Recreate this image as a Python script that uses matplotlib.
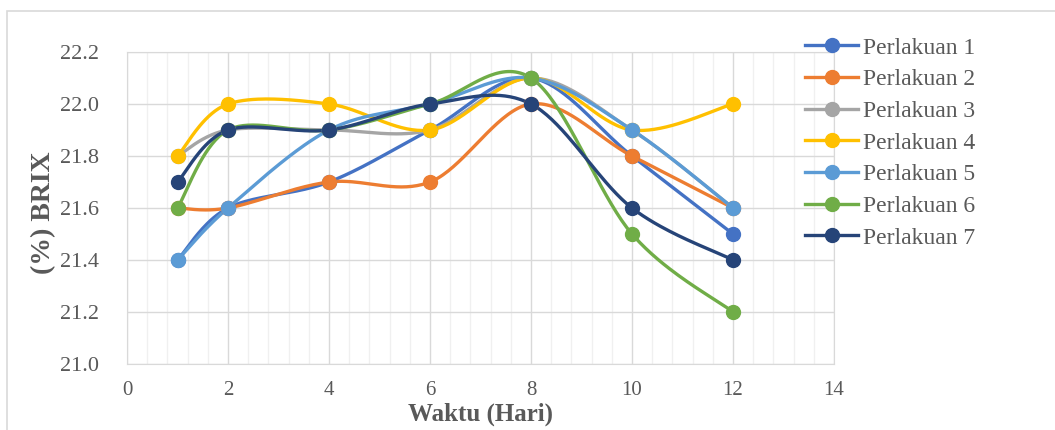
import numpy as np
import matplotlib
matplotlib.use('Agg')
import matplotlib.pyplot as plt
from matplotlib.patches import Rectangle
from matplotlib.lines import Line2D

plt.rcParams['font.family'] = ['Liberation Serif', 'DejaVu Serif']

hari = [1, 2, 4, 6, 8, 10, 12]
labels = ['Perlakuan 1', 'Perlakuan 2', 'Perlakuan 3', 'Perlakuan 4',
          'Perlakuan 5', 'Perlakuan 6', 'Perlakuan 7']
p1 = [21.4, 21.6, 21.7, 21.9, 22.1, 21.8, 21.5]
p2 = [21.6, 21.6, 21.7, 21.7, 22.0, 21.8, 21.6]
p3 = [21.8, 21.9, 21.9, 21.9, 22.1, 21.9, 21.6]
p4 = [21.8, 22.0, 22.0, 21.9, 22.1, 21.9, 22.0]
p5 = [21.4, 21.6, 21.9, 22.0, 22.1, 21.9, 21.6]
p6 = [21.6, 21.9, 21.9, 22.0, 22.1, 21.5, 21.2]
p7 = [21.7, 21.9, 21.9, 22.0, 22.0, 21.6, 21.4]
series = [p1, p2, p3, p4, p5, p6, p7]
colors = ['#4472C4', '#ED7D31', '#A5A5A5', '#FFC000', '#5B9BD5', '#70AD47', '#264478']

W, H = 1055, 430
fig = plt.figure(figsize=(W / 100, H / 100), dpi=100)
ax = fig.add_axes([127 / W, 1 - 364 / H, (834 - 127) / W, (364 - 52) / H])
ax.set_xlim(0, 14)
ax.set_ylim(21.0, 22.2)

# chart area border (right/bottom run off the picture)
fig.patches.append(Rectangle((7 / W, -0.1), 1.2, 1 - 11 / H + 0.1,
                             transform=fig.transFigure, fill=False,
                             edgecolor='#D9D9D9', linewidth=1.2))


def smooth(xs, ys, n=40):
    # excel-like smoothed line: catmull-rom bezier computed in screen space
    pts = ax.transData.transform(np.column_stack([xs, ys]))
    out = [pts[0]]
    for i in range(len(pts) - 1):
        p0 = pts[i - 1] if i > 0 else pts[i]
        p1_ = pts[i]
        p2_ = pts[i + 1]
        p3_ = pts[i + 2] if i + 2 < len(pts) else pts[i + 1]
        c1 = p1_ + (p2_ - p0) / 6
        c2 = p2_ - (p3_ - p1_) / 6
        t = np.linspace(0, 1, n)[1:, None]
        seg = ((1 - t) ** 3 * p1_ + 3 * (1 - t) ** 2 * t * c1
               + 3 * (1 - t) * t ** 2 * c2 + t ** 3 * p2_)
        out.extend(seg)
    out = ax.transData.inverted().transform(np.array(out))
    return out[:, 0], out[:, 1]


for vals, c, lab in zip(series, colors, labels):
    sx, sy = smooth(hari, vals)
    ax.plot(sx, sy, color=c, linewidth=2.4, solid_capstyle='round', zorder=3)
    ax.plot(hari, vals, 'o', color=c, markersize=10, zorder=4)

ax.set_xticks(np.arange(0, 15, 2))
ax.set_xticks(np.arange(0, 14.01, 0.4), minor=True)
ax.set_yticks(np.arange(21.0, 22.21, 0.2))
ax.set_yticklabels(['%.1f' % v for v in np.arange(21.0, 22.21, 0.2)])
ax.grid(True, which='major', color='#D9D9D9', linewidth=1.0, zorder=0)
ax.grid(True, which='minor', axis='x', color='#F0F0F0', linewidth=1.0, zorder=0)
ax.set_axisbelow(True)
ax.tick_params(which='both', length=0, labelsize=16, labelcolor='#595959')
ax.tick_params(axis='x', labelsize=15, pad=12)
ax.tick_params(axis='y', pad=20)
for s in ax.spines.values():
    s.set_color('#D9D9D9')

fig.text(481 / W, 1 - 414 / H, 'Waktu (Hari)', fontsize=18, fontweight='bold',
         color='#595959', ha='center', va='center')
fig.text(44 / W, 1 - 213 / H, '(%) BRIX', fontsize=20, fontweight='bold',
         color='#595959', ha='center', va='center', rotation=90)

handles = [Line2D([0], [0], color=c, linewidth=2.4, marker='o', markersize=10)
           for c in colors]
leg = fig.legend(handles, labels, loc='upper left', bbox_to_anchor=(805 / W, 1 - 37 / H),
                 frameon=False, fontsize=17, handlelength=2.25, handletextpad=0.2,
                 labelspacing=0.43, borderaxespad=0, borderpad=0)
for t in leg.get_texts():
    t.set_color('#595959')

fig.savefig('out.png', dpi=100)
